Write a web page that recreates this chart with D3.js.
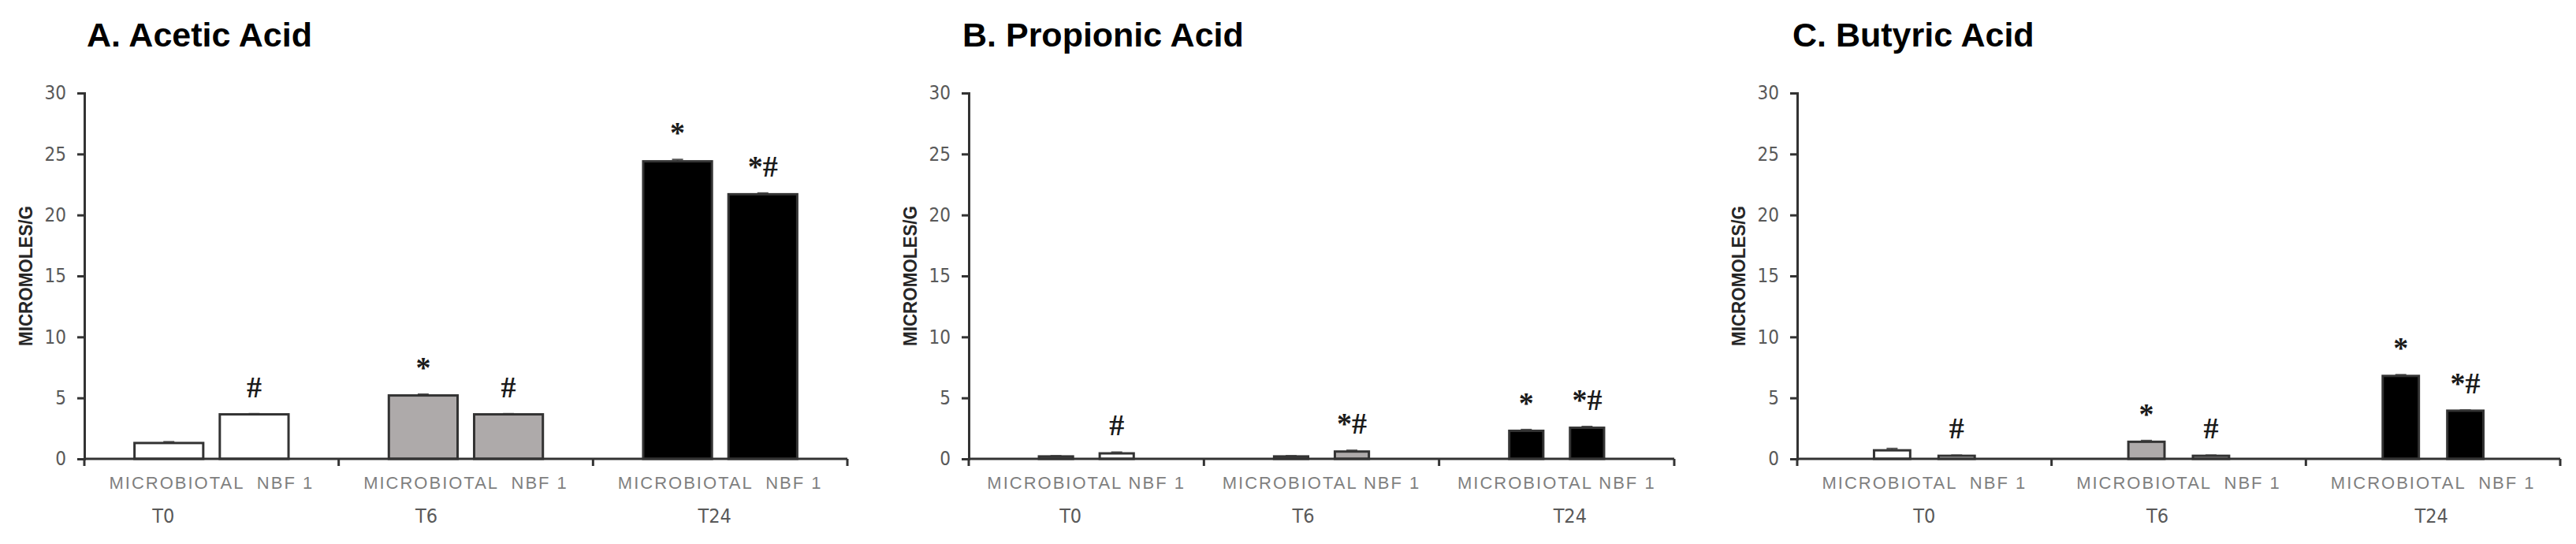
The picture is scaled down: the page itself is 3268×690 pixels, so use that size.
<!DOCTYPE html>
<html>
<head>
<meta charset="utf-8">
<script src="https://cdn.jsdelivr.net/npm/d3@7/dist/d3.min.js"></script>
<style>
  html, body { margin: 0; padding: 0; background: #fff; }
  svg { display: block; }
  .title { font-family: "Liberation Sans", Arial, sans-serif; font-weight: bold; fill: #000; }
  .tick text { font-family: "Liberation Sans Narrow", "DejaVu Sans Condensed", sans-serif; fill: #595959; }
  .ylab { font-family: "Liberation Sans", Arial, sans-serif; font-weight: bold; fill: #262626; }
  .xlab { font-family: "Liberation Sans", Arial, sans-serif; fill: #7f7f7f; letter-spacing: 2px; white-space: pre; }
  .glab { font-family: "Liberation Sans Narrow", "DejaVu Sans Condensed", sans-serif; fill: #595959; }
  .mark { font-family: "Liberation Serif", "Times New Roman", serif; fill: #1a1a1a; }
</style>
</head>
<body>
<svg id="chart" width="3268" height="690"></svg>
<script>
// Categories
const groups = ["T0", "T6", "T24"];
const series = ["MICROBIOTAL", "NBF 1"];
const yTicks = [0, 5, 10, 15, 20, 25, 30];

// Acetic acid (micromoles/g)
const aceticMicro = [1.3, 5.2, 24.4];
const aceticNbf = [3.65, 3.65, 21.7];
const aceticMicroErr = [0.1, 0.1, 0.15];
const aceticNbfErr = [0.05, 0.05, 0.1];
const aceticMicroSig = ["", "*", "*"];
const aceticNbfSig = ["#", "#", "*#"];

// Propionic acid
const propMicro = [0.2, 0.2, 2.3];
const propNbf = [0.45, 0.6, 2.55];
const propMicroErr = [0.05, 0.05, 0.1];
const propNbfErr = [0.1, 0.1, 0.1];
const propMicroSig = ["", "", "*"];
const propNbfSig = ["#", "*#", "*#"];

// Butyric acid
const butMicro = [0.7, 1.4, 6.8];
const butNbf = [0.25, 0.25, 3.95];
const butMicroErr = [0.15, 0.1, 0.1];
const butNbfErr = [0.05, 0.05, 0.05];
const butMicroSig = ["", "*", "*"];
const butNbfSig = ["#", "#", "*#"];

// Fill per time point
const groupFill = ["#ffffff", "#aeaaaa", "#000000"];

const svg = d3.select("#chart");

// Panel layout
const panels = [
    { title: "A. Acetic Acid", x0: 107, x1: 1075, titleX: 110, bandPad: [0.194, 0.588], labGap: 2,
      timeShift: [-61, -50, -7],
      micro: aceticMicro, nbf: aceticNbf, microErr: aceticMicroErr, nbfErr: aceticNbfErr,
      microSig: aceticMicroSig, nbfSig: aceticNbfSig },
    { title: "B. Propionic Acid", x0: 1229, x1: 2124, titleX: 1221, bandPad: [0.44, 1.155], labGap: 1,
      timeShift: [-20, -23, 17],
      micro: propMicro, nbf: propNbf, microErr: propMicroErr, nbfErr: propNbfErr,
      microSig: propMicroSig, nbfSig: propNbfSig },
    { title: "C. Butyric Acid", x0: 2280, x1: 3248, titleX: 2274, bandPad: [0.44, 1.19], labGap: 2,
      timeShift: [0, -27, -2],
      micro: butMicro, nbf: butNbf, microErr: butMicroErr, nbfErr: butNbfErr,
      microSig: butMicroSig, nbfSig: butNbfSig }
];

const yTop = 118;
const yBottom = 582;

const y = d3.scaleLinear().domain([0, 30]).range([yBottom, yTop]);

panels.forEach(drawPanel);

function drawPanel(p) {
    const g = svg.append("g");

    // Title
    g.append("text")
        .attr("class", "title")
        .attr("x", p.titleX)
        .attr("y", 59)
        .attr("font-size", 43)
        .text(p.title);

    const x0 = d3.scaleBand().domain(groups).range([p.x0, p.x1]).padding(0);
    const x1 = d3.scaleBand().domain(series).range([0, x0.bandwidth()])
        .paddingInner(p.bandPad[0]).paddingOuter(p.bandPad[1]);

    // Rows for bars
    const rows = [];
    groups.forEach((grp, i) => {
        rows.push({ grp, i, s: series[0], v: p.micro[i], e: p.microErr[i], sig: p.microSig[i] });
        rows.push({ grp, i, s: series[1], v: p.nbf[i], e: p.nbfErr[i], sig: p.nbfSig[i] });
    });

    // Error bars
    const err = g.append("g").attr("stroke", "#555").attr("stroke-width", 2);
    rows.forEach(d => {
        const cx = x0(d.grp) + x1(d.s) + x1.bandwidth() / 2;
        err.append("line").attr("x1", cx).attr("x2", cx).attr("y1", y(d.v)).attr("y2", y(d.v + d.e));
        err.append("line").attr("x1", cx - 7).attr("x2", cx + 7).attr("y1", y(d.v + d.e)).attr("y2", y(d.v + d.e));
    });

    // Bars
    g.append("g").selectAll("rect")
        .data(rows)
        .join("rect")
        .attr("x", d => x0(d.grp) + x1(d.s))
        .attr("y", d => y(d.v))
        .attr("width", x1.bandwidth())
        .attr("height", d => y(0) - y(d.v))
        .attr("fill", d => groupFill[d.i])
        .attr("stroke", "#333")
        .attr("stroke-width", 3);

    // Significance marks
    g.append("g").selectAll("text")
        .data(rows.filter(d => d.sig))
        .join("text")
        .attr("class", "mark")
        .attr("x", d => x0(d.grp) + x1(d.s) + x1.bandwidth() / 2)
        .attr("y", d => y(d.v + d.e) - 21)
        .attr("text-anchor", "middle")
        .attr("font-size", 38)
        .attr("font-weight", "bold")
        .text(d => d.sig);

    // Y axis
    const yAxis = g.append("g")
        .attr("transform", `translate(${p.x0},0)`)
        .call(d3.axisLeft(y).tickValues(yTicks).tickSize(9).tickPadding(14));
    yAxis.select(".domain").attr("stroke", "#333").attr("stroke-width", 3);
    yAxis.selectAll(".tick line").attr("stroke", "#333").attr("stroke-width", 3);
    yAxis.selectAll(".tick text").attr("font-size", 24);

    // Y label
    g.append("text")
        .attr("class", "ylab")
        .attr("transform", `translate(${p.x0 - 66},${(yTop + yBottom) / 2}) rotate(-90)`)
        .attr("text-anchor", "middle")
        .attr("font-size", 23)
        .attr("textLength", 178)
        .attr("lengthAdjust", "spacingAndGlyphs")
        .text("MICROMOLES/G");

    // X axis baseline and group ticks
    g.append("line")
        .attr("x1", p.x0).attr("x2", p.x1)
        .attr("y1", y(0)).attr("y2", y(0))
        .attr("stroke", "#333").attr("stroke-width", 3);
    const bounds = groups.map(d => x0(d)).concat([p.x1]);
    g.append("g").selectAll("line")
        .data(bounds)
        .join("line")
        .attr("x1", d => d).attr("x2", d => d)
        .attr("y1", y(0)).attr("y2", y(0) + 9)
        .attr("stroke", "#333").attr("stroke-width", 3);

    // Series labels under each group
    const gap = " ".repeat(p.labGap);
    g.append("g").selectAll("text")
        .data(groups)
        .join("text")
        .attr("class", "xlab")
        .attr("x", d => x0(d) + x0.bandwidth() / 2)
        .attr("y", 620)
        .attr("text-anchor", "middle")
        .attr("font-size", 22)
        .text(series.join(gap));

    // Time point labels
    g.append("g").selectAll("text")
        .data(groups)
        .join("text")
        .attr("class", "glab")
        .attr("x", (d, i) => x0(d) + x0.bandwidth() / 2 + p.timeShift[i])
        .attr("y", 663)
        .attr("text-anchor", "middle")
        .attr("font-size", 25)
        .text(d => d);
}
</script>
</body>
</html>
